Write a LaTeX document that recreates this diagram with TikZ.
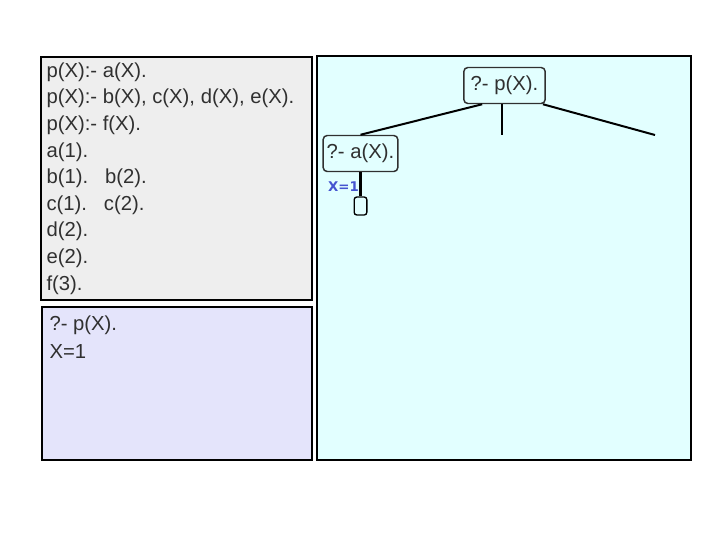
\documentclass[tikz,border=0pt]{standalone}
\usepackage{fontspec}
\setmainfont{Liberation Sans}
\newfontfamily\bindfont{DejaVu Sans}

\definecolor{factsgray}{RGB}{238,238,238}
\definecolor{querylav}{RGB}{228,228,251}
\definecolor{treecyan}{RGB}{226,255,255}
\definecolor{bindblue}{RGB}{68,84,208}
\definecolor{inkgray}{RGB}{48,48,48}

\tikzset{every picture/.style={line width=0.75pt}}
\tikzset{
  panel/.style={draw=black, line width=1.5pt},
  codeline/.style={anchor=west, inner sep=0.75pt, text=inkgray, font=\fontsize{15.2}{18}\selectfont},
  goal/.style={draw=inkgray, rounded corners=3pt, line width=1.1pt, inner sep=0pt, minimum height=27pt, text=inkgray, font=\fontsize{15.2}{18}\selectfont},
  leafbox/.style={draw=black, rounded corners=2pt, line width=1pt, minimum width=9.5pt, minimum height=13.5pt, inner sep=0pt},
  branch/.style={draw=black, line width=1.5pt},
}

\begin{document}
\begin{tikzpicture}[x=0.75pt,y=0.75pt,yscale=-1,xscale=1]
\useasboundingbox (0,0) rectangle (720,540);

% Panels
\draw [panel, fill=factsgray] (41,57) rectangle (312,300);
\draw [panel, fill=querylav] (42,307) rectangle (312,460);
\draw [panel, fill=treecyan] (317,56) rectangle (691,460);

% Text Node
\node [codeline] (r1) at (45,72) {p(X):- a(X).};
\node [codeline] (r2) at (45,98.6) {p(X):- b(X), c(X), d(X), e(X).};
\node [codeline] (r3) at (45,125.2) {p(X):- f(X).};
\node [codeline] (fa) at (45,151.8) {a(1).};
\node [codeline] (fb) at (45,178.4) {b(1).\ \ \ b(2).};
\node [codeline] (fc) at (45,205) {c(1).\ \ \ c(2).};
\node [codeline] (fd) at (45,231.6) {d(2).};
\node [codeline] (fe) at (45,258.2) {e(2).};
\node [codeline] (ff) at (45,284.8) {f(3).};
% Text Node
\node [codeline] (query) at (48,325) {?- p(X).};
\node [codeline] (answer) at (48,352) {X=1};

% Text Node
\node [goal, minimum width=61pt] (root) at (504.5,85.5) {?- p(X).};
\node [goal, minimum width=56pt] (child) at (360.5,153.5) {?- a(X).};
\node [leafbox] (leaf) at (360.5,206) {};
\coordinate (midend) at (502,135);
\coordinate (rightend) at (655,135);
\node [inner sep=0.5pt, text=bindblue, font=\bindfont\bfseries\fontsize{10}{12}\selectfont] (bind) at (343.5,187) {X=1};

% Connection
\draw [branch] (root.220) -- (child.north);
\draw [branch] (root.south -| midend) -- (midend);
\draw [branch] (root.334) -- (rightend);
\draw [draw=black, line width=2.2pt] (child.south) -- (leaf.north);

\end{tikzpicture}
\end{document}
